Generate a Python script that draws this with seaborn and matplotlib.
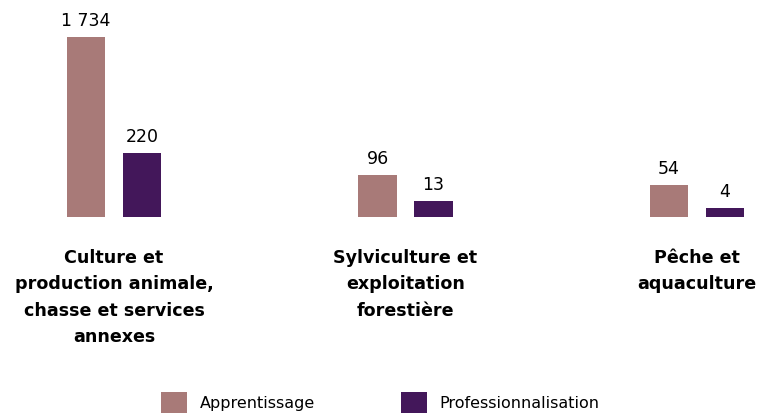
import numpy as np
import pandas as pd
import matplotlib
matplotlib.use("Agg")
import matplotlib.pyplot as plt
import seaborn as sns
from matplotlib.patches import Patch

categories = [
    "Culture et\nproduction animale,\nchasse et services\nannexes",
    "Sylviculture et\nexploitation\nforestière",
    "Pêche et\naquaculture",
]
series = ["Apprentissage", "Professionnalisation"]
apprentissage = [1734, 96, 54]
professionnalisation = [220, 13, 4]
colors = ["#A87A78", "#43175A"]

df = pd.DataFrame({
    "cat": categories * 2,
    "type": [series[0]] * 3 + [series[1]] * 3,
    "val": apprentissage + professionnalisation,
})

sns.set_theme(style="white")
plt.rcParams["font.family"] = ["DejaVu Sans"]

fig = plt.figure(figsize=(7.61, 4.16), dpi=100)
ax = fig.add_axes([0, (416 - 217) / 416, 1, 217 / 416])

sns.barplot(data=df, x="cat", y="val", hue="type", hue_order=series,
            order=categories, palette=colors, width=0.384, gap=0.32,
            saturation=1, ax=ax, legend=False, linewidth=0)

ax.set_yscale("function", functions=(lambda v: np.sqrt(np.clip(v, 0, None)), np.square))
ax.set_ylim(0, 2520)
ax.set_xlim(-114 / 291.5, (761 - 114) / 291.5)

for c in ax.containers:
    ax.bar_label(c, labels=[f"{v:,.0f}".replace(",", "\u00a0") for v in c.datavalues],
                 padding=5, fontsize=12.5, color="#000000")

ax.set_xlabel("")
ax.set_ylabel("")
ax.set_yticks([])
ax.tick_params(axis="x", length=0, pad=23)
for lbl in ax.get_xticklabels():
    lbl.set_fontweight("bold")
    lbl.set_fontsize(12.6)
    lbl.set_linespacing(1.6)
    lbl.set_color("#000000")
    lbl.set_verticalalignment("top")
for s in ax.spines.values():
    s.set_visible(False)

handles = [Patch(facecolor=colors[i], edgecolor="none", label=series[i]) for i in range(2)]
fig.legend(handles=handles, loc="lower center", bbox_to_anchor=(0.5, -0.027), ncol=2,
           frameon=False, fontsize=11.5, handlelength=1.6, handleheight=1.6,
           handletextpad=0.8, columnspacing=5.4, labelcolor="#000000")

fig.savefig("out.png", dpi=100)
